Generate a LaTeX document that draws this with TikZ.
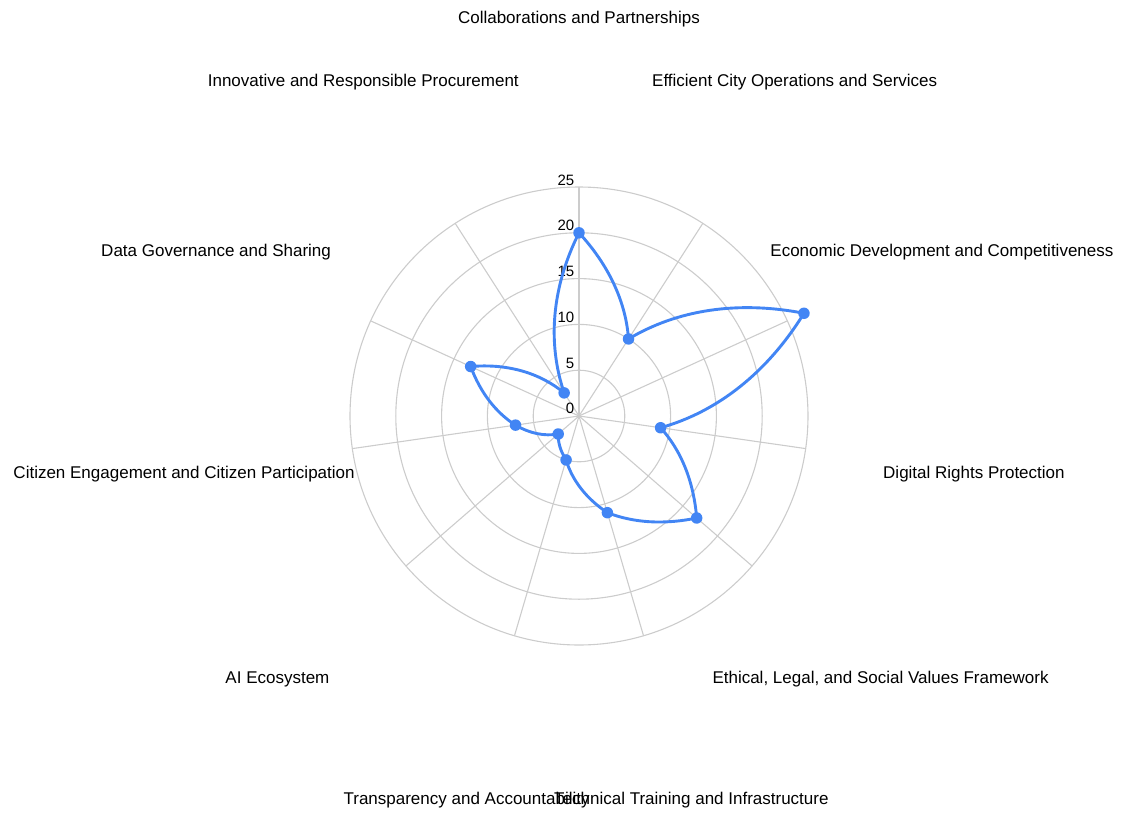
\documentclass[tikz,border=0pt]{standalone}
\usepackage{fontspec}
\setmainfont{Liberation Sans}
\usetikzlibrary{calc}
\definecolor{gridgray}{HTML}{CCCCCC}
\definecolor{serblue}{HTML}{4285F4}
\begin{document}
\begin{tikzpicture}[x=1pt,y=1pt,
  gridline/.style={draw=gridgray, line width=1.1pt},
  axislabel/.style={font=\fontsize{17}{20}\selectfont, text=black, inner sep=0pt, text height=12.2pt, text depth=0pt, anchor=center},
  ticklabel/.style={font=\fontsize{15}{18}\selectfont, text=black, inner sep=0pt, anchor=base east},
  series/.style={draw=serblue, line width=2.9pt, line join=round},
  dot/.style={circle, fill=serblue, inner sep=0pt, minimum size=11.5pt}]
\useasboundingbox (-579,-396) rectangle (547,416);
\def\R{229}
\def\U{9.16}
\def\vals{{20,10,27,9,17,11,5,3,7,13,3,20}}
\coordinate (ctr) at (0,0);
% rings
\foreach \i in {1,...,5} \draw[gridline] (ctr) circle ({\i*45.8});
% spokes
\foreach \k in {0,...,10} {
  \coordinate (s\k) at ({90-\k*360/11}:\R);
  \draw[gridline] (ctr) -- (s\k);
}
% tick labels
\node[ticklabel] (t0)  at (-4.5,2.5) {0};
\node[ticklabel] (t5)  at (-4.5,47.8) {5};
\node[ticklabel] (t10) at (-4.5,93.6) {10};
\node[ticklabel] (t15) at (-4.5,139.4) {15};
\node[ticklabel] (t20) at (-4.5,185.2) {20};
\node[ticklabel] (t25) at (-4.5,231) {25};
% data points
\foreach \k in {0,...,11} {
  \pgfmathsetmacro\va{\vals[\k]}
  \coordinate (p\k) at ({90-\k*360/11}:{\va*\U});
}
% control points: polar thirds pulled slightly outward
\foreach \k in {0,...,10} {
  \pgfmathtruncatemacro\kn{\k+1}
  \pgfmathsetmacro\va{\vals[\k]}
  \pgfmathsetmacro\vb{\vals[\kn]}
  \coordinate (qa\k) at ({90-(\k+1/3)*360/11}:{(\va+(\vb-\va)/3)*\U});
  \coordinate (qb\k) at ({90-(\k+2/3)*360/11}:{(\va+2*(\vb-\va)/3)*\U});
  \coordinate (ca\k) at ($ ($(p\k)!1/3!(p\kn)$)!1.12!(qa\k) $);
  \coordinate (cb\k) at ($ ($(p\k)!2/3!(p\kn)$)!1.12!(qb\k) $);
}
\draw[series] (p0) .. controls (ca0) and (cb0) .. (p1)
  .. controls (ca1) and (cb1) .. (p2)
  .. controls (ca2) and (cb2) .. (p3)
  .. controls (ca3) and (cb3) .. (p4)
  .. controls (ca4) and (cb4) .. (p5)
  .. controls (ca5) and (cb5) .. (p6)
  .. controls (ca6) and (cb6) .. (p7)
  .. controls (ca7) and (cb7) .. (p8)
  .. controls (ca8) and (cb8) .. (p9)
  .. controls (ca9) and (cb9) .. (p10)
  .. controls (ca10) and (cb10) .. (p11) -- cycle;
\foreach \k in {0,...,10} \node[dot] (d\k) at (p\k) {};
% axis labels
\node[axislabel] (l0)  at ({90-0*360/11}:399) {Collaborations and Partnerships};
\node[axislabel] (l1)  at ({90-1*360/11}:399) {Efficient City Operations and Services};
\node[axislabel] (l2)  at ({90-2*360/11}:399) {Economic Development and Competitiveness};
\node[axislabel] (l3)  at ({90-3*360/11}:399) {Digital Rights Protection};
\node[axislabel] (l4)  at ({90-4*360/11}:399) {Ethical, Legal, and Social Values Framework};
\node[axislabel] (l6)  at ({90-6*360/11}:399) {Transparency and Accountability};
\node[axislabel] (l5)  at ({90-5*360/11}:399) {Technical Training and Infrastructure};
\node[axislabel] (l7)  at ({90-7*360/11}:399) {AI Ecosystem};
\node[axislabel] (l8)  at ({90-8*360/11}:399) {Citizen Engagement and Citizen Participation};
\node[axislabel] (l9)  at ({90-9*360/11}:399) {Data Governance and Sharing};
\node[axislabel] (l10) at ({90-10*360/11}:399) {Innovative and Responsible Procurement};
\end{tikzpicture}
\end{document}
